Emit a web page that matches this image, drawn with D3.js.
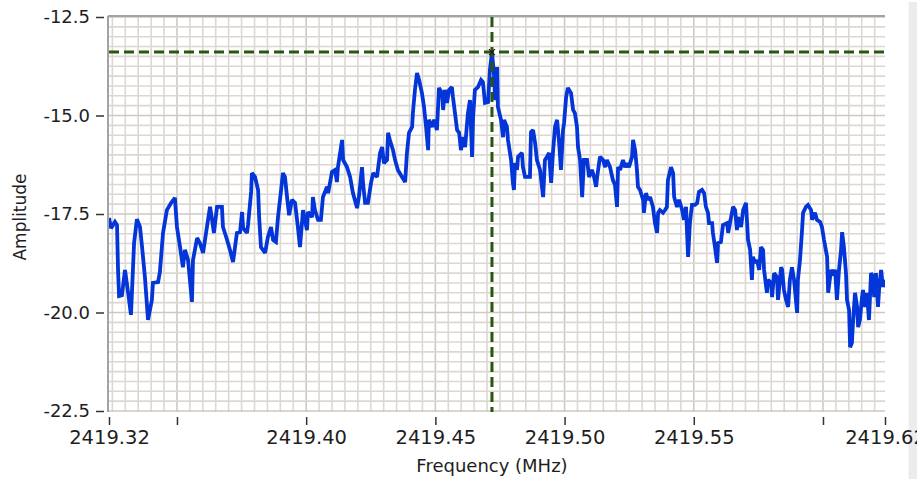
<!DOCTYPE html>
<html>
<head>
<meta charset="utf-8">
<script src="https://cdn.jsdelivr.net/npm/d3@7"></script>
<style>
body { margin: 0; background: #fff; }
text { font-family: "DejaVu Sans", sans-serif; fill: #1e1e1e; }
</style>
</head>
<body>
<div id="chart"></div>
<script>
// spectrum trace (MHz, amplitude)
var freq = [
  2419.3237, 2419.3245, 2419.3260, 2419.3268, 2419.3272, 2419.3276, 2419.3287, 2419.3299, 2419.3311, 2419.3322,
  2419.3334, 2419.3345, 2419.3357, 2419.3365, 2419.3376, 2419.3388, 2419.3403, 2419.3407, 2419.3427, 2419.3434,
  2419.3446, 2419.3461, 2419.3477, 2419.3492, 2419.3500, 2419.3512, 2419.3523, 2419.3531, 2419.3543, 2419.3558,
  2419.3562, 2419.3578, 2419.3589, 2419.3601, 2419.3616, 2419.3628, 2419.3636, 2419.3643, 2419.3655, 2419.3674,
  2419.3678, 2419.3694, 2419.3705, 2419.3717, 2419.3732, 2419.3744, 2419.3752, 2419.3756, 2419.3771, 2419.3775,
  2419.3787, 2419.3790, 2419.3802, 2419.3814, 2419.3818, 2419.3825, 2419.3841, 2419.3852, 2419.3864, 2419.3872,
  2419.3883, 2419.3891, 2419.3903, 2419.3910, 2419.3918, 2419.3926, 2419.3934, 2419.3945, 2419.3957, 2419.3968,
  2419.3976, 2419.3988, 2419.4003, 2419.4007, 2419.4023, 2419.4026, 2419.4034, 2419.4046, 2419.4057, 2419.4065,
  2419.4081, 2419.4085, 2419.4100, 2419.4112, 2419.4119, 2419.4123, 2419.4139, 2419.4143, 2419.4158, 2419.4170,
  2419.4181, 2419.4197, 2419.4205, 2419.4216, 2419.4220, 2419.4228, 2419.4239, 2419.4251, 2419.4259, 2419.4274,
  2419.4286, 2419.4294, 2419.4301, 2419.4313, 2419.4317, 2419.4324, 2419.4336, 2419.4344, 2419.4355, 2419.4371,
  2419.4383, 2419.4390, 2419.4398, 2419.4410, 2419.4413, 2419.4421, 2419.4429, 2419.4437, 2419.4448, 2419.4456,
  2419.4464, 2419.4472, 2419.4475, 2419.4487, 2419.4495, 2419.4506, 2419.4514, 2419.4526, 2419.4530, 2419.4537,
  2419.4545, 2419.4553, 2419.4564, 2419.4568, 2419.4576, 2419.4584, 2419.4592, 2419.4599, 2419.4607, 2419.4615,
  2419.4626, 2419.4634, 2419.4642, 2419.4646, 2419.4653, 2419.4665, 2419.4677, 2419.4684, 2419.4692, 2419.4704,
  2419.4711, 2419.4719, 2419.4727, 2419.4731, 2419.4739, 2419.4742, 2419.4754, 2419.4762, 2419.4766, 2419.4777,
  2419.4781, 2419.4793, 2419.4800, 2419.4804, 2419.4808, 2419.4816, 2419.4820, 2419.4835, 2419.4839, 2419.4847,
  2419.4866, 2419.4870, 2419.4878, 2419.4886, 2419.4893, 2419.4905, 2419.4917, 2419.4924, 2419.4932, 2419.4940,
  2419.4948, 2419.4955, 2419.4963, 2419.4971, 2419.4979, 2419.4986, 2419.4994, 2419.4998, 2419.5006, 2419.5013,
  2419.5025, 2419.5033, 2419.5040, 2419.5048, 2419.5052, 2419.5060, 2419.5068, 2419.5075, 2419.5087, 2419.5095,
  2419.5106, 2419.5114, 2419.5122, 2419.5126, 2419.5137, 2419.5149, 2419.5157, 2419.5164, 2419.5176, 2419.5187,
  2419.5195, 2419.5203, 2419.5207, 2419.5215, 2419.5226, 2419.5234, 2419.5242, 2419.5249, 2419.5261, 2419.5265,
  2419.5273, 2419.5280, 2419.5284, 2419.5292, 2419.5304, 2419.5307, 2419.5315, 2419.5323, 2419.5331, 2419.5342,
  2419.5350, 2419.5358, 2419.5362, 2419.5369, 2419.5381, 2419.5389, 2419.5396, 2419.5400, 2419.5412, 2419.5420,
  2419.5424, 2419.5435, 2419.5443, 2419.5455, 2419.5462, 2419.5470, 2419.5474, 2419.5478, 2419.5485, 2419.5493,
  2419.5505, 2419.5513, 2419.5520, 2419.5532, 2419.5540, 2419.5547, 2419.5555, 2419.5559, 2419.5571, 2419.5574,
  2419.5582, 2419.5590, 2419.5594, 2419.5605, 2419.5613, 2419.5629, 2419.5633, 2419.5640, 2419.5652, 2419.5660,
  2419.5667, 2419.5671, 2419.5683, 2419.5691, 2419.5702, 2419.5710, 2419.5718, 2419.5725, 2419.5729, 2419.5737,
  2419.5745, 2419.5753, 2419.5760, 2419.5768, 2419.5772, 2419.5783, 2419.5787, 2419.5799, 2419.5803, 2419.5811,
  2419.5822, 2419.5826, 2419.5838, 2419.5842, 2419.5849, 2419.5857, 2419.5865, 2419.5872, 2419.5880, 2419.5888,
  2419.5900, 2419.5903, 2419.5911, 2419.5919, 2419.5923, 2419.5934, 2419.5942, 2419.5954, 2419.5958, 2419.5969,
  2419.5977, 2419.5989, 2419.5996, 2419.6004, 2419.6016, 2419.6020, 2419.6031, 2419.6039, 2419.6047, 2419.6054,
  2419.6062, 2419.6070, 2419.6074, 2419.6081, 2419.6089, 2419.6093, 2419.6101, 2419.6105, 2419.6112, 2419.6116,
  2419.6124, 2419.6132, 2419.6136, 2419.6143, 2419.6151, 2419.6155, 2419.6163, 2419.6170, 2419.6178, 2419.6186,
  2419.6194, 2419.6198, 2419.6205, 2419.6213, 2419.6217, 2419.6225, 2419.6232, 2419.6240
];
var amp = [
  -17.60, -17.86, -17.70, -17.78, -18.92, -19.58, -19.56, -18.92, -19.50, -20.06,
  -18.24, -17.63, -17.83, -18.34, -19.10, -20.19, -19.68, -19.25, -19.23, -18.97,
  -17.98, -17.40, -17.22, -17.09, -17.83, -18.34, -18.85, -18.41, -18.67, -19.73,
  -18.67, -18.11, -18.24, -18.49, -17.83, -17.32, -17.65, -17.98, -17.32, -17.32,
  -17.83, -18.16, -18.41, -18.72, -17.98, -17.96, -17.45, -17.86, -17.98, -17.78,
  -16.94, -16.46, -16.56, -16.89, -17.58, -18.34, -18.49, -18.08, -17.83, -18.16,
  -18.21, -17.58, -16.89, -16.46, -16.56, -17.07, -17.53, -17.14, -17.22, -17.83,
  -18.34, -17.40, -17.91, -17.45, -17.58, -17.07, -17.40, -17.65, -17.65, -17.07,
  -16.81, -16.97, -16.43, -16.38, -16.69, -16.31, -15.62, -16.13, -16.31, -16.56,
  -16.97, -17.35, -17.02, -16.31, -16.71, -17.22, -17.22, -16.71, -16.46, -16.56,
  -15.95, -15.80, -16.21, -16.13, -15.44, -15.62, -15.88, -16.13, -16.38, -16.56,
  -16.69, -15.95, -15.44, -15.29, -14.94, -14.35, -13.92, -14.10, -14.43, -14.78,
  -15.29, -15.88, -15.11, -15.29, -15.11, -15.37, -14.30, -14.43, -14.86, -14.35,
  -14.68, -14.35, -14.28, -14.53, -14.94, -15.37, -15.44, -15.88, -15.55, -15.80,
  -14.94, -14.61, -16.05, -15.04, -14.35, -14.28, -14.10, -14.15, -14.68, -14.66,
  -13.85, -13.39, -13.97, -14.61, -13.77, -14.78, -15.11, -15.55, -15.11, -15.29,
  -15.62, -16.13, -16.71, -16.89, -16.21, -16.38, -16.05, -15.95, -16.31, -16.56,
  -16.56, -15.42, -15.37, -15.70, -16.13, -16.38, -17.07, -16.13, -16.05, -15.95,
  -16.71, -15.95, -15.29, -15.11, -15.70, -16.38, -15.37, -15.19, -14.53, -14.30,
  -14.43, -14.86, -14.94, -15.29, -15.80, -16.13, -17.07, -16.13, -16.13, -16.56,
  -16.38, -16.56, -16.81, -16.56, -16.05, -16.13, -16.31, -16.13, -16.31, -16.64,
  -16.76, -17.32, -16.31, -16.38, -16.13, -16.31, -16.21, -16.31, -16.05, -15.62,
  -15.88, -16.38, -16.81, -16.89, -17.14, -17.47, -16.97, -17.14, -17.07, -17.32,
  -17.73, -17.98, -17.47, -17.40, -17.47, -17.40, -17.32, -16.64, -16.31, -16.46,
  -17.07, -17.32, -17.14, -17.40, -17.65, -17.32, -17.98, -18.59, -17.73, -17.27,
  -17.27, -17.22, -16.94, -16.89, -16.97, -17.32, -17.47, -17.73, -17.73, -17.98,
  -18.34, -18.74, -18.24, -18.21, -17.78, -17.73, -17.98, -17.73, -17.32, -17.40,
  -17.91, -17.58, -17.83, -17.40, -17.22, -18.16, -18.41, -19.17, -18.59, -18.74,
  -18.67, -18.92, -18.34, -18.41, -18.92, -19.50, -19.17, -19.25, -19.61, -19.00,
  -19.10, -19.68, -18.85, -18.92, -19.43, -19.68, -19.86, -19.17, -18.85, -19.17,
  -20.01, -19.17, -18.67, -17.91, -17.47, -17.32, -17.27, -17.40, -17.65, -17.47,
  -17.65, -17.70, -17.83, -18.16, -18.59, -19.50, -18.92, -19.00, -18.92, -19.68,
  -18.92, -18.41, -17.96, -18.34, -19.00, -19.68, -19.94, -20.88, -20.77, -20.27,
  -19.50, -19.86, -20.37, -20.19, -19.61, -19.43, -19.86, -19.50, -20.19, -19.00,
  -19.10, -19.61, -19.00, -19.86, -19.43, -18.92, -19.35, -19.17
];

var xDomain = [2419.3237, 2419.6240];
var yDomain = [-12.5, -22.5];
var xTicks = [2419.3237, 2419.35, 2419.40, 2419.45, 2419.50, 2419.55, 2419.60, 2419.6240];
var xTickLabels = ["2419.32", "", "2419.40", "2419.45", "2419.50", "2419.55", "", "2419.62"];
var yTicks = [-12.5, -15.0, -17.5, -20.0, -22.5];
var cursorFreq = 2419.4719;
var cursorAmp = -13.39;

var LINE_COLOR = "#0335d8";
var CURSOR_COLOR = "#2a5610";
var GRID_COLOR = "#dcd8d1";
var GRID_MAJOR = "#cdc9c1";

function drawGraph(id) {
    var width = 917, height = 479;
    var pLeft = 109, pRight = 885, pTop = 17, pBottom = 411;

    var svg = d3.select(id).append("svg")
        .attr("width", width).attr("height", height);

    var x = d3.scaleLinear().domain(xDomain).range([pLeft, pRight]);
    var y = d3.scaleLinear().domain(yDomain).range([pTop, pBottom]);

    function isMajor(v, step) {
        var k = v / step;
        return Math.abs(k - Math.round(k)) < 1e-6;
    }

    // grid
    var grid = svg.append("g");
    grid.selectAll("line.v").data(x.ticks(60)).enter().append("line")
        .attr("x1", function(d){ return x(d); }).attr("x2", function(d){ return x(d); })
        .attr("y1", pTop).attr("y2", pBottom + 1)
        .attr("stroke", function(d){ return isMajor(d, 0.05) ? GRID_MAJOR : GRID_COLOR; })
        .attr("stroke-width", 1.6);

    var hLines = d3.range(0, 41).map(function(i){ return -22.5 + i * 0.25; });
    grid.selectAll("line.h").data(hLines).enter().append("line")
        .attr("x1", pLeft).attr("x2", pRight)
        .attr("y1", function(d){ return y(d); }).attr("y2", function(d){ return y(d); })
        .attr("stroke", function(d){ return isMajor(d, 2.5) ? GRID_MAJOR : GRID_COLOR; })
        .attr("stroke-width", 1.6);

    // frame, top and left only
    svg.append("line").attr("x1", pLeft - 1).attr("x2", pRight).attr("y1", pTop - 1).attr("y2", pTop - 1)
        .attr("stroke", "#a3a3a3").attr("stroke-width", 2);
    svg.append("line").attr("x1", pLeft - 1).attr("x2", pLeft - 1).attr("y1", pTop - 1).attr("y2", pBottom + 1)
        .attr("stroke", "#a3a3a3").attr("stroke-width", 2);

    // trace
    svg.append("clipPath").attr("id", "plot").append("rect")
        .attr("x", pLeft).attr("y", pTop).attr("width", pRight - pLeft).attr("height", pBottom - pTop);

    var pts = freq.map(function(f, i){ return {f: f, a: amp[i]}; });
    var line = d3.line()
        .x(function(d){ return x(d.f); })
        .y(function(d){ return y(d.a); });

    svg.append("path").datum(pts)
        .attr("clip-path", "url(#plot)")
        .attr("d", line)
        .attr("fill", "none")
        .attr("stroke", LINE_COLOR)
        .attr("stroke-width", 3.8)
        .attr("stroke-linejoin", "miter")
        .attr("stroke-miterlimit", 2);

    // cursor
    svg.append("line")
        .attr("x1", pLeft).attr("x2", pRight)
        .attr("y1", y(cursorAmp)).attr("y2", y(cursorAmp))
        .attr("stroke", CURSOR_COLOR).attr("stroke-width", 3).attr("stroke-dasharray", "10,5");
    svg.append("line")
        .attr("x1", x(cursorFreq)).attr("x2", x(cursorFreq))
        .attr("y1", pTop).attr("y2", pBottom + 1)
        .attr("stroke", CURSOR_COLOR).attr("stroke-width", 3).attr("stroke-dasharray", "10,5");
    svg.append("path")
        .attr("transform", "translate(" + x(cursorFreq) + "," + y(cursorAmp) + ")")
        .attr("d", "M-3,-3L3,3M-3,3L3,-3")
        .attr("stroke", "#1a1a1a").attr("stroke-width", 1.2);

    // panel edge on the right
    svg.append("rect")
        .attr("x", 908).attr("y", 2).attr("width", 9).attr("height", height - 2)
        .attr("fill", "#ececec");
    svg.append("line").attr("x1", 908.5).attr("x2", 908.5).attr("y1", 2).attr("y2", height)
        .attr("stroke", "#f6f6f6").attr("stroke-width", 1);

    // axes
    var yAxis = svg.append("g")
        .attr("transform", "translate(" + (pLeft - 5) + ",0)")
        .call(d3.axisLeft(y).tickValues(yTicks).tickSize(8).tickPadding(6)
            .tickFormat(function(d){ return d3.format(".1f")(d).replace("\u2212", "-"); }));
    yAxis.select(".domain").remove();
    yAxis.selectAll("line").attr("stroke", "#333").attr("stroke-width", 1.5);
    yAxis.selectAll("text").style("font-size", "18px").attr("fill", "#1e1e1e")
        .style("font-family", "DejaVu Sans");

    var xAxis = svg.append("g")
        .attr("transform", "translate(0," + (pBottom + 6) + ")")
        .call(d3.axisBottom(x).tickValues(xTicks).tickSize(8).tickPadding(5)
            .tickFormat(function(d, i){ return xTickLabels[i]; }));
    xAxis.select(".domain").remove();
    xAxis.selectAll("line").attr("stroke", "#333").attr("stroke-width", 1.5);
    xAxis.selectAll("text").style("font-size", "19.5px").attr("fill", "#1e1e1e")
        .style("font-family", "DejaVu Sans");

    svg.append("text")
        .attr("x", 492).attr("y", 472)
        .attr("text-anchor", "middle")
        .style("font-size", "18px")
        .text("Frequency (MHz)");

    svg.append("text")
        .attr("transform", "translate(26,217) rotate(-90)")
        .attr("text-anchor", "middle")
        .style("font-size", "17px")
        .text("Amplitude");
}

drawGraph("#chart");
</script>
</body>
</html>
